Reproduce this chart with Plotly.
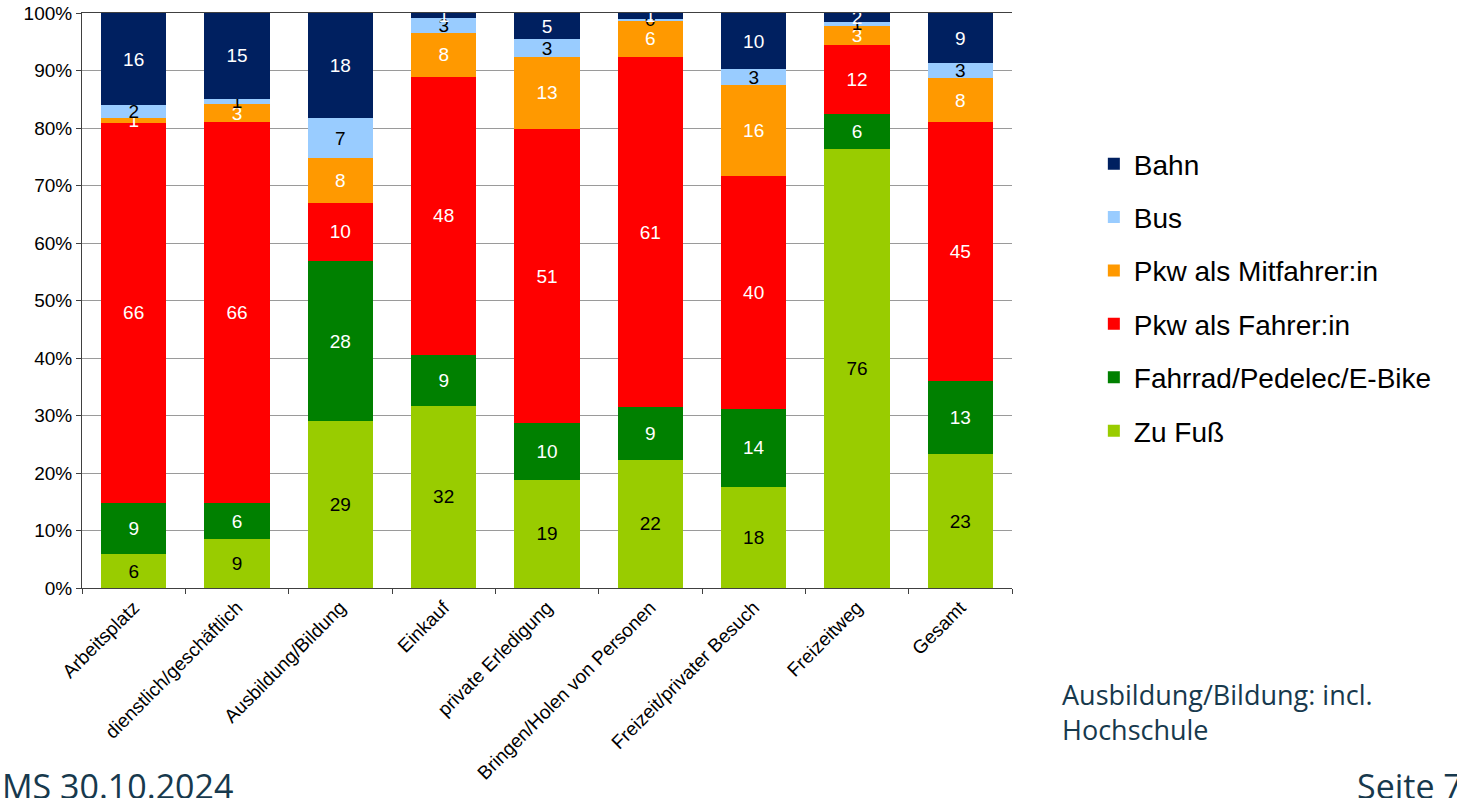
import plotly.graph_objects as go

# Wegezwecke (x-Achse)
zwecke = [
    "Arbeitsplatz",
    "dienstlich/geschäftlich",
    "Ausbildung/Bildung",
    "Einkauf",
    "private Erledigung",
    "Bringen/Holen von Personen",
    "Freizeit/privater Besuch",
    "Freizeitweg",
    "Gesamt",
]

# Anteile in % (von unten nach oben gestapelt)
zu_fuss = [5.9, 8.5, 29.0, 31.7, 18.8, 22.3, 17.6, 76.4, 23.3]
fahrrad = [8.9, 6.2, 27.9, 8.8, 9.9, 9.2, 13.6, 6.0, 12.7]
pkw_fahrer = [66.1, 66.3, 10.1, 48.4, 51.1, 60.8, 40.4, 12.0, 45.0]
pkw_mitfahrer = [0.8, 3.1, 7.8, 7.6, 12.6, 6.4, 15.8, 3.4, 7.7]
bus = [2.3, 1.0, 6.9, 2.6, 3.0, 0.3, 2.8, 0.6, 2.6]
bahn = [16.0, 14.9, 18.3, 0.9, 4.6, 1.0, 9.8, 1.6, 8.7]

y_ticks = list(range(0, 101, 10))
y_ticktext = [f"{v}%" for v in y_ticks]

# name, werte, balkenfarbe, schriftfarbe, rang in der legende
serien = [
    ("Zu Fuß", zu_fuss, "#99CC00", "black", 6),
    ("Fahrrad/Pedelec/E-Bike", fahrrad, "#008000", "white", 5),
    ("Pkw als Fahrer:in", pkw_fahrer, "#FF0000", "white", 4),
    ("Pkw als Mitfahrer:in", pkw_mitfahrer, "#FF9900", "white", 3),
    ("Bus", bus, "#99CCFF", "black", 2),
    ("Bahn", bahn, "#002060", "white", 1),
]

fig = go.Figure()

for name, werte, farbe, textfarbe, rang in serien:
    fig.add_trace(
        go.Bar(
            x=zwecke,
            y=werte,
            name=name,
            legendgroup=name,
            legendrank=rang,
            marker=dict(color=farbe, line=dict(width=0)),
            text=werte,
            texttemplate="%{y:.0f}",
            textposition="inside",
            insidetextanchor="middle",
            textangle=0,
            textfont=dict(color=textfarbe, size=19, family="Liberation Sans, Arial"),
            cliponaxis=False,
        )
    )

fig.update_layout(
    barmode="stack",
    bargap=0.37,
    width=1457,
    height=798,
    margin=dict(l=82, r=445, t=13, b=210, autoexpand=False),
    plot_bgcolor="white",
    paper_bgcolor="white",
    font=dict(family="Liberation Sans, Arial", color="black"),
    uniformtext=dict(minsize=19, mode="show"),
    legend=dict(
        x=1.088,
        y=0.781,
        xanchor="left",
        yanchor="top",
        traceorder="grouped",
        tracegroupgap=14,
        font=dict(size=28, family="Liberation Sans, Arial"),
        bgcolor="rgba(0,0,0,0)",
    ),
    showlegend=True,
)

fig.update_yaxes(
    range=[0, 100],
    tickvals=y_ticks,
    ticktext=y_ticktext,
    automargin=False,
    showgrid=True,
    gridcolor="#9a9a9a",
    gridwidth=1,
    showline=True,
    linecolor="#404040",
    linewidth=1,
    ticks="outside",
    ticklen=5,
    tickcolor="#404040",
    tickfont=dict(size=19),
    zeroline=False,
)

fig.update_xaxes(
    tickangle=-45,
    tickfont=dict(size=19),
    automargin=False,
    showline=True,
    linecolor="#404040",
    linewidth=1,
    mirror=True,
    ticks="outside",
    tickson="boundaries",
    ticklen=5,
    tickcolor="#404040",
)

textfarbe_folie = "#17394D"

fig.add_annotation(
    text="MS 30.10.2024",
    xref="paper", yref="paper",
    x=-0.0882, y=-0.345,
    xanchor="left", yanchor="middle",
    showarrow=False,
    font=dict(size=34, color=textfarbe_folie, family="Open Sans"),
)
fig.add_annotation(
    text="Seite 7",
    xref="paper", yref="paper",
    x=1.369, y=-0.345,
    xanchor="left", yanchor="middle",
    showarrow=False,
    font=dict(size=34, color=textfarbe_folie, family="Open Sans"),
)
fig.add_annotation(
    text="Ausbildung/Bildung: incl.<br>Hochschule",
    xref="paper", yref="paper",
    x=1.0516, y=-0.2157,
    xanchor="left", yanchor="middle",
    align="left",
    showarrow=False,
    font=dict(size=27, color=textfarbe_folie, family="Open Sans"),
)

# Seitenrand entfernen, damit die Grafik bei 0/0 beginnt; keine Modebar
fig.write_html(
    "out.html",
    config={"displayModeBar": False},
    post_script="document.body.style.margin='0';",
)
